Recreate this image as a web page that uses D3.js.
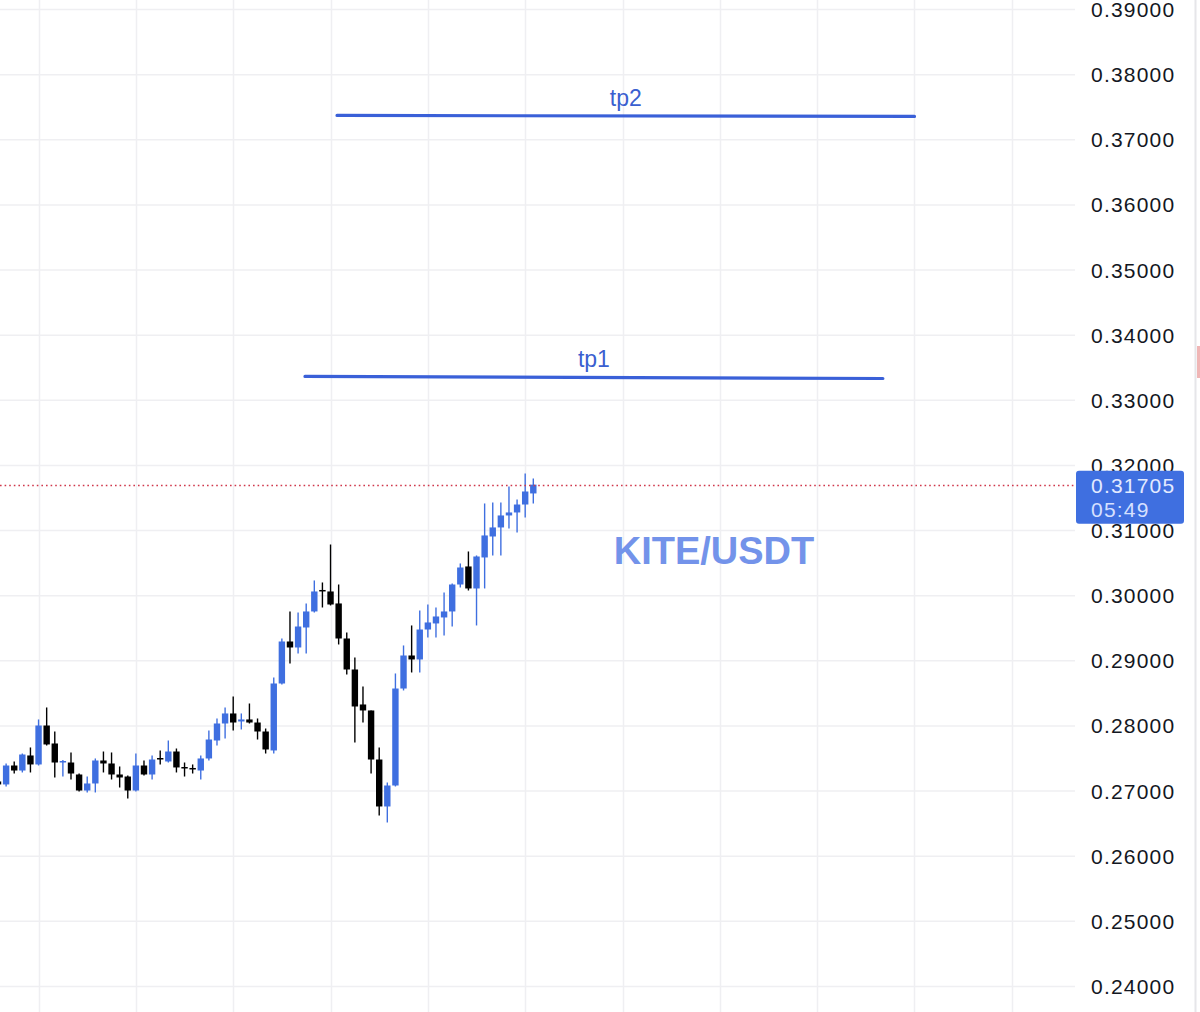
<!DOCTYPE html>
<html>
<head>
<meta charset="utf-8">
<script src="https://cdn.jsdelivr.net/npm/d3@7"></script>
<style>
  html, body { margin: 0; padding: 0; background: #ffffff; }
  svg { display: block; }
</style>
</head>
<body>
<svg id="chart" width="1200" height="1012"></svg>
<script>
// ---- data ----
const symbol = "KITE/USDT";
const opens  = [0.27148,0.27102,0.27393,0.27316,0.27547,0.27409,0.28007,0.27731,0.27439,0.27439,
                0.27255,0.27009,0.27117,0.27470,0.27424,0.27255,0.27224,0.27009,0.27393,0.27255,
                0.27508,0.27455,0.27608,0.27370,0.27355,0.27316,0.27501,0.27777,0.28038,0.28192,
                0.28069,0.28100,0.28053,0.27915,0.27624,0.28652,0.29297,0.29205,0.29512,0.29758,
                0.30088,0.30065,0.29881,0.29343,0.28867,0.28330,0.28238,0.27485,0.26764,0.27086,
                0.28575,0.29082,0.29021,0.29481,0.29574,0.29666,0.29758,0.30172,0.30449,0.30111,
                0.30587,0.30909,0.31048,0.31232,0.31278,0.31400,0.31570];
const highs  = [0.27224,0.27424,0.27455,0.27577,0.27670,0.28100,0.28284,0.27915,0.27478,0.27593,
                0.27270,0.27224,0.27501,0.27608,0.27593,0.27378,0.27240,0.27577,0.27470,0.27547,
                0.27624,0.27777,0.27654,0.27439,0.27409,0.27547,0.27931,0.28115,0.28284,0.28453,
                0.28192,0.28345,0.28115,0.27961,0.28744,0.29343,0.29758,0.29742,0.29881,0.30234,
                0.30203,0.30786,0.30172,0.29435,0.29052,0.28606,0.28238,0.27670,0.27132,0.28806,
                0.29236,0.29543,0.29773,0.29865,0.29819,0.30049,0.30188,0.30495,0.30679,0.30618,
                0.31416,0.31431,0.31431,0.31677,0.31477,0.31877,0.31800];
const lows   = [0.27055,0.27071,0.27270,0.27286,0.27286,0.27393,0.27700,0.27209,0.27224,0.27178,
                0.26994,0.26979,0.26979,0.27286,0.27178,0.27055,0.26887,0.26994,0.27240,0.27178,
                0.27409,0.27439,0.27286,0.27224,0.27270,0.27178,0.27470,0.27700,0.27808,0.27931,
                0.27946,0.28038,0.27792,0.27577,0.27577,0.28637,0.28959,0.29113,0.29113,0.29742,
                0.29819,0.29850,0.29251,0.28790,0.27746,0.28053,0.27270,0.26626,0.26518,0.27071,
                0.28545,0.28821,0.28821,0.29359,0.29359,0.29389,0.29527,0.30126,0.30080,0.29543,
                0.30111,0.30618,0.30618,0.31032,0.30971,0.31201,0.31416];
const closes = [0.27102,0.27393,0.27316,0.27562,0.27409,0.28007,0.27716,0.27439,0.27462,0.27270,
                0.27009,0.27117,0.27470,0.27424,0.27255,0.27209,0.27009,0.27393,0.27255,0.27485,
                0.27485,0.27608,0.27363,0.27355,0.27339,0.27501,0.27792,0.28038,0.28192,0.28053,
                0.28100,0.28053,0.27915,0.27639,0.28652,0.29297,0.29205,0.29527,0.29758,0.30065,
                0.30073,0.29865,0.29343,0.28867,0.28299,0.28238,0.27485,0.26764,0.27086,0.28575,
                0.29082,0.29021,0.29481,0.29589,0.29681,0.29758,0.30172,0.30433,0.30111,0.30602,
                0.30925,0.31048,0.31232,0.31278,0.31400,0.31600,0.31705];
const priceTicks = [0.24,0.25,0.26,0.27,0.28,0.29,0.30,0.31,0.32,0.33,0.34,0.35,0.36,0.37,0.38,0.39];
const timeGridIdx = [5,17,29,41,53,65,77,89,101,113,125];
const tpLabels = ["tp1","tp2"];
const tpStartIdx = [37.85, 41.8];
const tpEndIdx   = [109.1, 113.0];
const tpStartPrice = [0.33366, 0.37373];
const tpEndPrice   = [0.33335, 0.37358];
const lastPrice = 0.31705;
const countdown = "05:49";

// ---- layout ----
const W = 1200, H = 1012;
const plotRight = 1075;
const upColor = "#3f6fe0", downColor = "#000000";
const svg = d3.select("#chart");

const x = d3.scaleLinear().domain([0, 66]).range([-2, 533.3]);
const y = d3.scaleLinear().domain([0.24, 0.39]).range([986.5, 9.5]);

const candles = opens.map((o, i) => ({i, o, h: highs[i], l: lows[i], c: closes[i]}));

// background
svg.append("rect").attr("width", W).attr("height", H).attr("fill", "#ffffff");

// grid
const grid = svg.append("g");
grid.selectAll("line.v").data(timeGridIdx).join("line")
  .attr("x1", d => Math.round(x(d)) + 0.5).attr("x2", d => Math.round(x(d)) + 0.5)
  .attr("y1", 0).attr("y2", H)
  .attr("stroke", "#efeff2").attr("stroke-width", 1.5);
grid.selectAll("line.h").data(priceTicks).join("line")
  .attr("x1", 0).attr("x2", plotRight)
  .attr("y1", d => y(d)).attr("y2", d => y(d))
  .attr("stroke", "#efeff2").attr("stroke-width", 1.5);

// right border
svg.append("line").attr("x1", 1195.5).attr("x2", 1195.5).attr("y1", 0).attr("y2", H)
  .attr("stroke", "#e6e6e9").attr("stroke-width", 2);
svg.append("rect").attr("x", 1197).attr("y", 346).attr("width", 3).attr("height", 32)
  .attr("fill", "#f0b6b6");

// watermark symbol
svg.append("text").attr("x", 714).attr("y", 564)
  .attr("text-anchor", "middle")
  .attr("font-family", "'Liberation Sans', Arial, sans-serif")
  .attr("font-weight", "bold").attr("font-size", 38)
  .attr("fill", "#7393ea").text(symbol);

// candles
const cg = svg.append("g");
cg.selectAll("line.wick").data(candles).join("line")
  .attr("x1", d => x(d.i)).attr("x2", d => x(d.i))
  .attr("y1", d => y(d.h)).attr("y2", d => y(d.l))
  .attr("stroke", d => d.c >= d.o ? upColor : downColor)
  .attr("stroke-width", 1.4);
cg.selectAll("rect.body").data(candles).join("rect")
  .attr("x", d => x(d.i) - 3.2).attr("width", 6.4)
  .attr("y", d => y(Math.max(d.o, d.c)))
  .attr("height", d => Math.max(1.5, Math.abs(y(d.o) - y(d.c))))
  .attr("fill", d => d.c >= d.o ? upColor : downColor);

// tp lines
const tp = svg.append("g");
tpLabels.forEach((lab, k) => {
  const x1 = x(tpStartIdx[k]), x2 = x(tpEndIdx[k]);
  const y1 = y(tpStartPrice[k]), y2 = y(tpEndPrice[k]);
  tp.append("line").attr("x1", x1).attr("x2", x2).attr("y1", y1).attr("y2", y2)
    .attr("stroke", "#3a60d8").attr("stroke-width", 3.2).attr("stroke-linecap", "round");
  tp.append("text").attr("x", (x1 + x2) / 2).attr("y", (y1 + y2) / 2 - 10)
    .attr("text-anchor", "middle")
    .attr("font-family", "'Liberation Sans', Arial, sans-serif")
    .attr("font-size", 23).attr("fill", "#3a5fd0").text(lab);
});

// price axis labels
svg.append("g").selectAll("text").data(priceTicks).join("text")
  .attr("x", 1091).attr("y", d => y(d) + 7.5)
  .attr("font-family", "'Liberation Sans', Arial, sans-serif")
  .attr("font-size", 21).attr("letter-spacing", 1.2)
  .attr("fill", "#131722")
  .text(d => d3.format(".5f")(d));

// last price dotted line
svg.append("line").attr("x1", 0).attr("x2", plotRight)
  .attr("y1", Math.round(y(lastPrice)) + 0.5).attr("y2", Math.round(y(lastPrice)) + 0.5)
  .attr("stroke", "#d0384c").attr("stroke-width", 1.6).attr("stroke-dasharray", "1.6,3");

// last price box
const ly = y(lastPrice);
svg.append("rect").attr("x", 1076).attr("y", ly - 14).attr("width", 108).attr("height", 53)
  .attr("rx", 3).attr("fill", "#3f6fe0");
svg.append("text").attr("x", 1091).attr("y", ly + 8)
  .attr("font-family", "'Liberation Sans', Arial, sans-serif")
  .attr("font-size", 21).attr("letter-spacing", 1.2).attr("fill", "#e3eaff")
  .text(d3.format(".5f")(lastPrice));
svg.append("text").attr("x", 1091).attr("y", ly + 32)
  .attr("font-family", "'Liberation Sans', Arial, sans-serif")
  .attr("font-size", 21).attr("letter-spacing", 1.2).attr("fill", "#d6e0ff")
  .text(countdown);
</script>
</body>
</html>
